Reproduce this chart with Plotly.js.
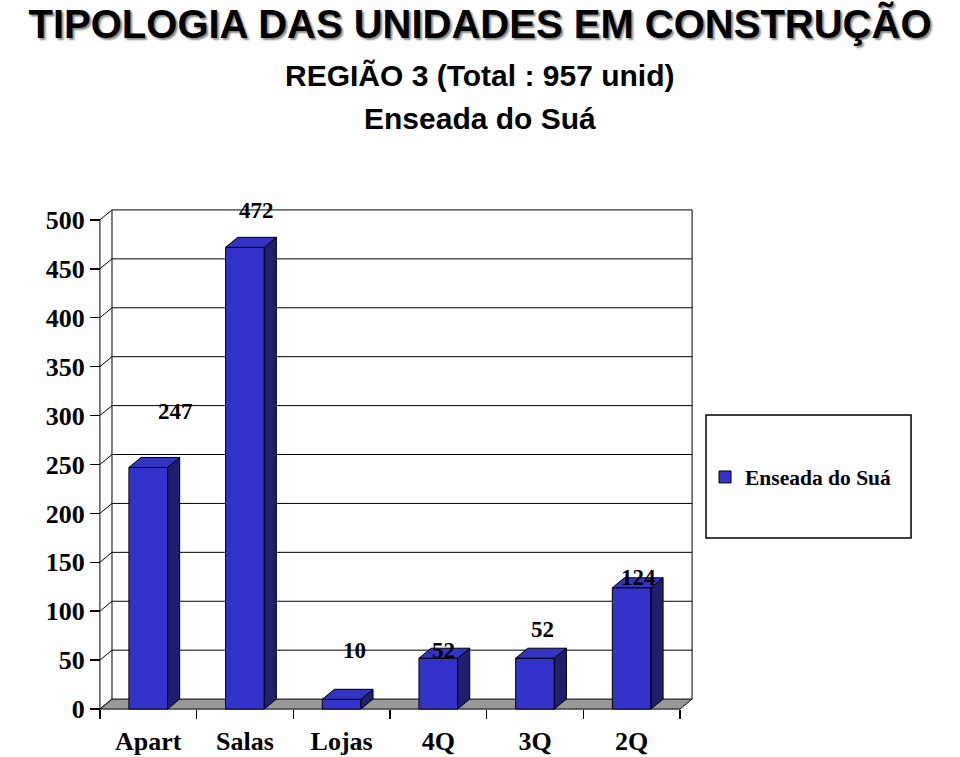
<!DOCTYPE html>
<html>
<head>
<meta charset="utf-8">
<script src="https://cdn.plot.ly/plotly-3.0.1.min.js"></script>
<style>html,body{margin:0;padding:0;background:#fff;}#chart{width:960px;height:757px;}</style>
</head>
<body>
<div id="chart"></div>
<script>
// ---- data ----
const categories = ['Apart', 'Salas', 'Lojas', '4Q', '3Q', '2Q'];
const values = [247, 472, 10, 52, 52, 124];
const seriesName = 'Enseada do Suá';
const yTickValues = [0, 50, 100, 150, 200, 250, 300, 350, 400, 450, 500];
const titleLines = ['TIPOLOGIA DAS UNIDADES EM CONSTRUÇÃO', 'REGIÃO 3 (Total : 957 unid)', 'Enseada do Suá'];

// ---- layout / geometry constants ----
const W = 960, H = 757;
const DX = 0.125;      // 3D depth in category units
const DY = 10.2;       // 3D depth in value units
const BW = 0.4;        // bar width
const XPAD = 0.03, YPAD = 3;
const yMax = 500;
const n = categories.length;
const idx = categories.map((c, i) => i);

const xRange = [-0.5 - XPAD, n - 0.5 + DX + XPAD];
const yRange = [-YPAD, yMax + DY + YPAD];
const pxPerX = 580 / n, pxPerY = 489 / yMax;
const L = 100 - XPAD * pxPerX;
const B = 48 - YPAD * pxPerY;
const plotW = (xRange[1] - xRange[0]) * pxPerX;
const plotH = (yRange[1] - yRange[0]) * pxPerY;
const R = W - L - plotW;
const T = H - B - plotH;
const pX = px => (px - L) / plotW;
const pY = py => (H - B - py) / plotH;

const frontColor = '#3333CC', sideColor = '#1F1F6E', topColor = '#3434C4';
const serif = 'Liberation Serif, Times New Roman, serif';
const sans = 'Liberation Sans, Arial, sans-serif';

// ---- traces ----
const frontBars = {
  type: 'bar', x: idx, y: values, width: BW, name: seriesName,
  marker: {color: frontColor, line: {color: '#000', width: 1}},
  hoverinfo: 'skip'
};

const sideX = [], sideY = [], topX = [], topY = [];
idx.forEach((i) => {
  const v = values[i];
  const r = i + BW / 2, l = i - BW / 2;
  sideX.push(r, r + DX, r + DX, r, r, null);
  sideY.push(0, DY, v + DY, v, 0, null);
  topX.push(l, r, r + DX, l + DX, l, null);
  topY.push(v, v, v + DY, v + DY, v, null);
});
const sideFaces = {
  type: 'scatter', mode: 'lines', x: sideX, y: sideY, fill: 'toself',
  fillcolor: sideColor, line: {color: '#000', width: 1}, showlegend: false, hoverinfo: 'skip'
};
const topFaces = {
  type: 'scatter', mode: 'lines', x: topX, y: topY, fill: 'toself',
  fillcolor: topColor, line: {color: '#000', width: 1}, showlegend: false, hoverinfo: 'skip'
};

// ---- walls, floor, grid (shapes below traces) ----
const x0 = -0.5, x1 = n - 0.5;
const shapes = [];
const line = {color: '#000', width: 1};
// back wall outline
shapes.push({type: 'path', xref: 'x', yref: 'y', layer: 'below', line: line,
  path: `M ${x0 + DX} ${DY} L ${x0 + DX} ${yMax + DY} L ${x1 + DX} ${yMax + DY} L ${x1 + DX} ${DY}`});
// back-wall gridlines
yTickValues.forEach(v => {
  if (v > 0 && v < yMax) {
    shapes.push({type: 'line', xref: 'x', yref: 'y', layer: 'below', line: line,
      x0: x0 + DX, x1: x1 + DX, y0: v + DY, y1: v + DY});
  }
});
// left side-wall diagonals
yTickValues.forEach(v => {
  shapes.push({type: 'line', xref: 'x', yref: 'y', layer: 'below', line: line,
    x0: x0, x1: x0 + DX, y0: v, y1: v + DY});
});
// front value axis line
shapes.push({type: 'line', xref: 'x', yref: 'y', layer: 'below', line: line,
  x0: x0, x1: x0, y0: 0, y1: yMax});
// floor
shapes.push({type: 'path', xref: 'x', yref: 'y', layer: 'below', fillcolor: '#999999', line: line,
  path: `M ${x0} 0 L ${x1} 0 L ${x1 + DX} ${DY} L ${x0 + DX} ${DY} Z`});
// legend box
shapes.push({type: 'rect', xref: 'paper', yref: 'paper', line: {color: '#000', width: 1.5},
  x0: pX(706), x1: pX(911), y0: pY(538), y1: pY(415)});

// ---- data labels (placement offsets are layout) ----
const labelShift = [[0.28, 57], [0.12, 38], [0.13, 50], [0.05, 8], [0.08, 29], [0.07, 10]];
const annotations = idx.map(i => ({
  xref: 'x', yref: 'y', x: i + labelShift[i][0], y: values[i] + labelShift[i][1],
  text: String(values[i]), showarrow: false,
  font: {family: serif, size: 23, color: '#000', weight: 'bold'}
}));
annotations.push({xref: 'paper', yref: 'paper', x: pX(480), y: pY(76), text: titleLines[1],
  showarrow: false, yanchor: 'middle', font: {family: sans, size: 30, color: '#000', weight: 'bold'}});
annotations.push({xref: 'paper', yref: 'paper', x: pX(480), y: pY(119), text: titleLines[2],
  showarrow: false, yanchor: 'middle', font: {family: sans, size: 30, color: '#000', weight: 'bold'}});

const layout = {
  width: W, height: H,
  margin: {l: L, r: R, t: T, b: B, pad: 0},
  paper_bgcolor: '#fff', plot_bgcolor: 'rgba(0,0,0,0)',
  title: {text: titleLines[0], x: 0.5, xref: 'container', y: 1 - 24 / H, yref: 'container', yanchor: 'middle',
    font: {family: sans, size: 40, color: '#000', weight: 'bold', shadow: '2px 2px 2px #888'}},
  xaxis: {range: xRange, tickvals: idx, ticktext: categories, ticks: '', showgrid: false, zeroline: false,
    showline: false, anchor: 'free', position: pY(709), ticklabelstandoff: 14,
    tickfont: {family: serif, size: 26, color: '#000', weight: 'bold'},
    minor: {tickvals: idx.map(i => i - 0.5).concat([n - 0.5]), ticks: 'outside', ticklen: 9, tickcolor: '#000', tickwidth: 1.5, showgrid: false},
    fixedrange: true},
  yaxis: {range: yRange, tickvals: yTickValues, ticks: 'outside', ticklen: 10, tickcolor: '#000', tickwidth: 1.5,
    showgrid: false, zeroline: false, showline: false, anchor: 'free', position: pX(100),
    tickfont: {family: serif, size: 26, color: '#000', weight: 'bold'}, fixedrange: true},
  showlegend: true,
  legend: {x: pX(705), y: pY(477), xanchor: 'left', yanchor: 'middle', bgcolor: 'rgba(0,0,0,0)', borderwidth: 0,
    font: {family: serif, size: 21.5, color: '#000', weight: 'bold'}},
  shapes: shapes,
  annotations: annotations
};

Plotly.newPlot('chart', [frontBars, sideFaces, topFaces], layout, {displayModeBar: false, staticPlot: true});
</script>
</body>
</html>
